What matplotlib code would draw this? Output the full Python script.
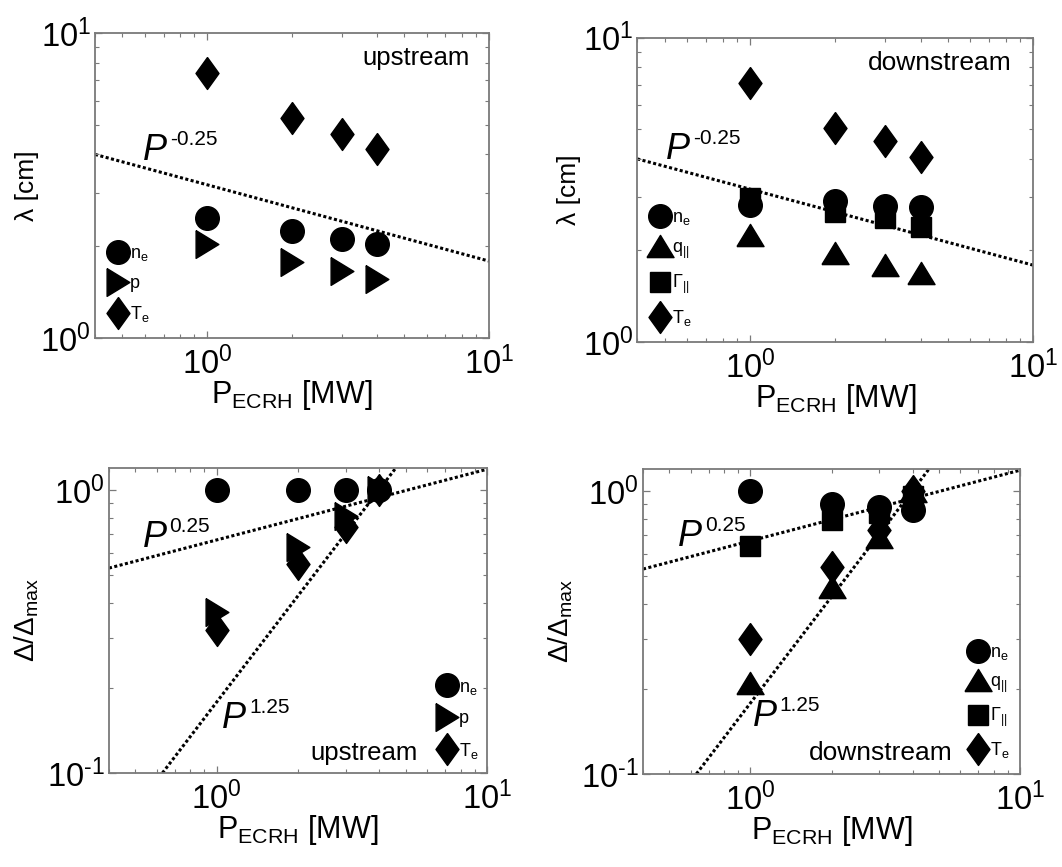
import numpy as np
import matplotlib
matplotlib.use("Agg")
import matplotlib.pyplot as plt
from matplotlib.ticker import NullFormatter, FuncFormatter
from matplotlib.transforms import offset_copy

plt.rcParams["font.family"] = ["Liberation Sans", "DejaVu Sans"]
plt.rcParams["mathtext.fontset"] = "custom"
plt.rcParams["mathtext.rm"] = "Liberation Sans"
plt.rcParams["mathtext.it"] = "Liberation Sans:italic"
plt.rcParams["mathtext.bf"] = "Liberation Sans:bold"
plt.rcParams["axes.unicode_minus"] = False

power = [1, 2, 3, 4]

# decay lengths [cm], upstream
lam_up_ne = [2.48, 2.24, 2.11, 2.03]
lam_up_p = [2.04, 1.78, 1.66, 1.56]
lam_up_te = [7.38, 5.25, 4.67, 4.17]

# decay lengths [cm], downstream
lam_dn_ne = [2.82, 2.91, 2.79, 2.77]
lam_dn_q = [2.25, 1.96, 1.79, 1.68]
lam_dn_gam = [2.98, 2.68, 2.55, 2.39]
lam_dn_te = [7.10, 5.05, 4.58, 4.07]

# normalised widths Delta/Delta_max
rel_up_ne = [1.0, 1.0, 1.0, 1.0]
rel_up_p = [0.37, 0.63, 0.81, 1.0]
rel_up_te = [0.32, 0.55, 0.74, 1.0]

rel_dn_ne = [1.0, 0.90, 0.88, 0.86]
rel_dn_q = [0.21, 0.46, 0.69, 1.0]
rel_dn_gam = [0.64, 0.79, 0.84, 0.96]
rel_dn_te = [0.30, 0.54, 0.73, 1.0]

# power law guide lines  y = c * P^a
fit_p = np.array([0.4, 10.0])
lam_c, lam_a = 3.18, -0.25
lo_c, lo_a = 0.667, 0.25
hi_c, hi_a = 0.178, 1.25

diamond = [(0, 1), (0.72, 0), (0, -1), (-0.72, 0), (0, 1)]
tri_right = [(-0.82, 1), (0.82, 0), (-0.82, -1), (-0.82, 1)]
tri_up = [(-1, -0.82), (1, -0.82), (0, 0.82), (-1, -0.82)]

sty = {
    "ne": dict(marker="o", ms=17, label=r"n$_\mathregular{e}$"),
    "p": dict(marker=tri_right, ms=20, label="p"),
    "q": dict(marker=tri_up, ms=19.5, label=r"q$_{||}$"),
    "gam": dict(marker="s", ms=14.5, label=r"$\Gamma_{||}$"),
    "te": dict(marker=diamond, ms=23, label=r"T$_\mathregular{e}$"),
}


def decade(v, pos):
    e = int(round(np.log10(v)))
    if e < 0:
        return r"$\mathdefault{10^{\text{-}%d}}$" % (-e)
    return r"$\mathdefault{10^{%d}}$" % e


def guide(ax, c, a):
    ax.plot(fit_p, c * fit_p ** a, color="k", lw=2.2, ls=(0, (1, 0.8)), zorder=1)


def series(ax, key, vals):
    s = sty[key]
    ax.plot(power, vals, ls="none", color="k", marker=s["marker"],
            ms=s["ms"], label=s["label"], zorder=3)


def powlabel(ax, x, y, expo):
    ax.text(x, y, "P", fontsize=26, style="italic", ha="left", va="baseline")
    tr = offset_copy(ax.transData, fig=ax.figure, x=27, y=15, units="dots")
    ax.text(x, y, expo, fontsize=15, ha="left", va="baseline", transform=tr)


def style(ax, ylim):
    ax.set_xscale("log")
    ax.set_yscale("log")
    ax.set_xlim(0.4, 10)
    ax.set_ylim(*ylim)
    ax.xaxis.set_major_formatter(FuncFormatter(decade))
    ax.yaxis.set_major_formatter(FuncFormatter(decade))
    ax.xaxis.set_minor_formatter(NullFormatter())
    ax.yaxis.set_minor_formatter(NullFormatter())
    for sp in ax.spines.values():
        sp.set_color("#7a7a7a")
        sp.set_linewidth(1.3)
    ax.tick_params(which="both", direction="in", top=True, right=True,
                   color="#7a7a7a", labelsize=23.5)
    ax.tick_params(which="major", length=5, width=0.9)
    ax.tick_params(which="minor", length=3, width=0.8)
    ax.tick_params(axis="x", pad=6)
    ax.tick_params(axis="y", pad=3)
    ax.set_xlabel(r"P$_\mathregular{ECRH}$ [MW]", fontsize=22, labelpad=-2)


def legend(ax, x0, y0, sp):
    ax.legend(loc="lower left", bbox_to_anchor=(x0, y0), frameon=False,
              fontsize=13, handlelength=1.0, handletextpad=0.15,
              borderpad=0, borderaxespad=0, labelspacing=sp, numpoints=1)


fig = plt.figure(figsize=(10.62, 8.67), dpi=100)
ax1 = fig.add_axes([0.0895, 0.610, 0.371, 0.352])
ax2 = fig.add_axes([0.600, 0.6055, 0.373, 0.351])
ax3 = fig.add_axes([0.1026, 0.1084, 0.356, 0.352])
ax4 = fig.add_axes([0.6055, 0.1073, 0.355, 0.352])

# upstream lambda
guide(ax1, lam_c, lam_a)
series(ax1, "ne", lam_up_ne)
series(ax1, "p", lam_up_p)
series(ax1, "te", lam_up_te)
style(ax1, (1, 10))
ax1.set_ylabel("λ [cm]", fontsize=19, labelpad=1)
powlabel(ax1, 0.593, 3.83, "-0.25")
ax1.text(0.95, 0.918, "upstream", fontsize=18.5, ha="right", va="center",
         transform=ax1.transAxes)
legend(ax1, 0.035, 0.045, 0.68)

# downstream lambda
guide(ax2, lam_c, lam_a)
series(ax2, "ne", lam_dn_ne)
series(ax2, "q", lam_dn_q)
series(ax2, "gam", lam_dn_gam)
series(ax2, "te", lam_dn_te)
style(ax2, (1, 10))
ax2.set_ylabel("λ [cm]", fontsize=19, labelpad=1)
powlabel(ax2, 0.505, 3.99, "-0.25")
ax2.text(0.945, 0.918, "downstream", fontsize=19, ha="right", va="center",
         transform=ax2.transAxes)
legend(ax2, 0.035, 0.045, 0.68)

# upstream normalised
guide(ax3, lo_c, lo_a)
guide(ax3, hi_c, hi_a)
series(ax3, "ne", rel_up_ne)
series(ax3, "p", rel_up_p)
series(ax3, "te", rel_up_te)
style(ax3, (0.1, 1.2))
ax3.set_ylabel(r"Δ/Δ$_\mathregular{max}$", fontsize=20, labelpad=4)
powlabel(ax3, 0.532, 0.632, "0.25")
powlabel(ax3, 1.05, 0.144, "1.25")
ax3.text(0.817, 0.043, "upstream", fontsize=18.5, ha="right", va="baseline",
         transform=ax3.transAxes)
legend(ax3, 0.87, 0.04, 0.75)

# downstream normalised
guide(ax4, lo_c, lo_a)
guide(ax4, hi_c, hi_a)
series(ax4, "ne", rel_dn_ne)
series(ax4, "q", rel_dn_q)
series(ax4, "gam", rel_dn_gam)
series(ax4, "te", rel_dn_te)
style(ax4, (0.1, 1.2))
ax4.set_ylabel(r"Δ/Δ$_\mathregular{max}$", fontsize=20, labelpad=4)
powlabel(ax4, 0.54, 0.639, "0.25")
powlabel(ax4, 1.02, 0.148, "1.25")
ax4.text(0.822, 0.046, "downstream", fontsize=19, ha="right", va="baseline",
         transform=ax4.transAxes)
legend(ax4, 0.865, 0.045, 0.62)

fig.savefig("out.png", dpi=100)
